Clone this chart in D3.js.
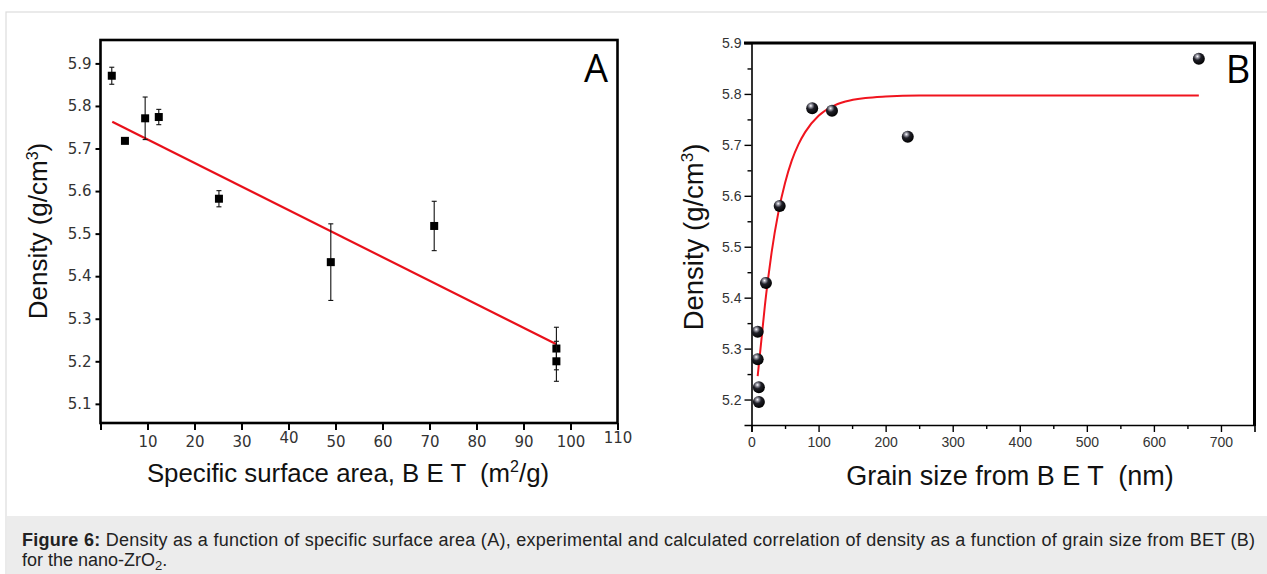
<!DOCTYPE html>
<html>
<head>
<meta charset="utf-8">
<script src="https://d3js.org/d3.v7.min.js"></script>
<style>
  body { margin: 0; background: #fff; }
  svg { display: block; }
</style>
</head>
<body>
<svg id="fig" width="1267" height="574"></svg>
<script>
// panel A: density vs specific surface area (with error bars)
var areaA   = [2.4, 5.2, 9.5, 12.4, 25.2, 49, 71, 97, 97];
var densA   = [5.871, 5.718, 5.771, 5.774, 5.582, 5.433, 5.518, 5.230, 5.200];
var errA    = [0.020, 0.004, 0.050, 0.018, 0.019, 0.090, 0.058, 0.050, 0.047];
var fitAx   = [2.5, 97];
var fitAy   = [5.763, 5.240];
var ticksAx = [0, 10, 20, 30, 40, 50, 60, 70, 80, 90, 100, 110];
var ticksAy = [5.1, 5.2, 5.3, 5.4, 5.5, 5.6, 5.7, 5.8, 5.9];

// panel B: density vs grain size (experimental + calculated)
var grainB  = [667, 90.5, 120, 233, 42, 21.5, 9.2, 9.2, 11, 11];
var densB   = [5.869, 5.772, 5.767, 5.716, 5.580, 5.429, 5.333, 5.279, 5.224, 5.195];
var fitBx   = [9.2, 15, 20, 25, 30, 40, 50, 60, 70, 80, 100, 120, 140, 170, 200, 250, 667];
var fitBy   = [5.246, 5.320, 5.385, 5.440, 5.489, 5.567, 5.625, 5.669, 5.701, 5.725, 5.757, 5.775, 5.785, 5.792, 5.795, 5.797, 5.797];
var ticksBx = [0, 100, 200, 300, 400, 500, 600, 700];
var ticksBy = [5.2, 5.3, 5.4, 5.5, 5.6, 5.7, 5.8, 5.9];

var svg = d3.select("#fig");

// card + caption background
svg.append("rect").attr("x", 6).attr("y", 12).attr("width", 1270).attr("height", 570)
    .attr("fill", "#fff").attr("stroke", "#dcdcdc").attr("stroke-width", 1.2);
svg.append("rect").attr("x", 6.6).attr("y", 516).attr("width", 1262).attr("height", 60)
    .attr("fill", "#ececec");

var defs = svg.append("defs");
var grad = defs.append("radialGradient").attr("id", "ball")
    .attr("cx", "38%").attr("cy", "30%").attr("r", "70%");
grad.append("stop").attr("offset", "0%").attr("stop-color", "#ffffff");
grad.append("stop").attr("offset", "18%").attr("stop-color", "#9a9aa6");
grad.append("stop").attr("offset", "45%").attr("stop-color", "#202028");
grad.append("stop").attr("offset", "100%").attr("stop-color", "#000");

// ---------- Panel A ----------
var xA = d3.scaleLinear().domain([0, 110]).range([100.5, 617.5]);
var yA = d3.scaleLinear().domain([5.055, 5.955]).range([423, 40]);
var gA = svg.append("g");

gA.append("rect").attr("x", 100.5).attr("y", 40).attr("width", 517).attr("height", 383)
    .attr("fill", "none").attr("stroke", "#000").attr("stroke-width", 2.6);

var axA = gA.append("g").attr("transform", "translate(0,423)")
    .call(d3.axisBottom(xA).tickValues(ticksAx).tickSize(7).tickPadding(6)
        .tickFormat(function(d) { return d === 0 ? "" : d; }));
axA.select(".domain").remove();
axA.selectAll("line").attr("stroke-width", 2);
axA.selectAll("text")
    .attr("font-family", "DejaVu Sans").attr("font-size", 15).attr("fill", "#333")
    .attr("dy", function(d) { return (d === 40 || d === 110) ? "0.45em" : "0.71em"; });

var ayA = gA.append("g").attr("transform", "translate(100.5,0)")
    .call(d3.axisLeft(yA).tickValues(ticksAy).tickSize(5).tickPadding(4).tickFormat(d3.format(".1f")));
ayA.select(".domain").remove();
ayA.selectAll("line").attr("stroke-width", 2);
ayA.selectAll("text").attr("font-family", "DejaVu Sans").attr("font-size", 15).attr("fill", "#333");

// fit line
gA.append("path")
    .datum(fitAx.map(function(x, i) { return [x, fitAy[i]]; }))
    .attr("fill", "none").attr("stroke", "#e8101a").attr("stroke-width", 2.2)
    .attr("d", d3.line().x(function(d) { return xA(d[0]); }).y(function(d) { return yA(d[1]); }));

// error bars + squares
var ptsA = areaA.map(function(x, i) { return { x: x, y: densA[i], e: errA[i] }; });
var eb = gA.selectAll(".eb").data(ptsA).enter().append("g").attr("class", "eb");
eb.append("line")
    .attr("x1", function(d) { return xA(d.x); }).attr("x2", function(d) { return xA(d.x); })
    .attr("y1", function(d) { return yA(d.y + d.e); }).attr("y2", function(d) { return yA(d.y - d.e); })
    .attr("stroke", "#111").attr("stroke-width", 1.1);
eb.append("line")
    .attr("x1", function(d) { return xA(d.x) - 2.5; }).attr("x2", function(d) { return xA(d.x) + 2.5; })
    .attr("y1", function(d) { return yA(d.y + d.e); }).attr("y2", function(d) { return yA(d.y + d.e); })
    .attr("stroke", "#111").attr("stroke-width", 1.1);
eb.append("line")
    .attr("x1", function(d) { return xA(d.x) - 2.5; }).attr("x2", function(d) { return xA(d.x) + 2.5; })
    .attr("y1", function(d) { return yA(d.y - d.e); }).attr("y2", function(d) { return yA(d.y - d.e); })
    .attr("stroke", "#111").attr("stroke-width", 1.1);
eb.append("rect")
    .attr("x", function(d) { return xA(d.x) - 4; }).attr("y", function(d) { return yA(d.y) - 4; })
    .attr("width", 8).attr("height", 8).attr("fill", "#000");

gA.append("text").attr("x", 596).attr("y", 82).attr("text-anchor", "middle")
    .attr("font-family", "Open Sans").attr("font-weight", 400).attr("font-size", 38).text("A");

gA.append("text").attr("transform", "translate(47,231) rotate(-90)").attr("text-anchor", "middle")
    .attr("font-family", "Liberation Sans").attr("font-size", 26).attr("fill", "#111")
    .html("Density (g/cm<tspan dy='-9' font-size='16'>3</tspan><tspan dy='9'>)</tspan>");
gA.append("text").attr("x", 348).attr("y", 482).attr("text-anchor", "middle")
    .attr("font-family", "Liberation Sans").attr("font-size", 25.8).attr("fill", "#111")
    .html("Specific surface area, B E T &#160;(m<tspan dy='-10' font-size='16'>2</tspan><tspan dy='10'>/g)</tspan>");

// ---------- Panel B ----------
var xB = d3.scaleLinear().domain([0, 750]).range([751.5, 1254.5]);
var yB = d3.scaleLinear().domain([5.15, 5.9]).range([425, 43]);
var gB = svg.append("g");

var axB = gB.append("g").attr("transform", "translate(0,425)")
    .call(d3.axisBottom(xB).tickValues(ticksBx).tickSize(7).tickPadding(5));
axB.select(".domain").attr("stroke-width", 1.6);
axB.selectAll("line").attr("stroke-width", 1.4);
axB.selectAll("text").attr("font-family", "Liberation Sans").attr("font-size", 14).attr("fill", "#333");
gB.append("g").attr("transform", "translate(0,425)")
    .call(d3.axisBottom(xB).tickValues(d3.range(50, 750, 100)).tickSize(4).tickFormat(""))
    .call(function(g) { g.select(".domain").remove(); g.selectAll("line").attr("stroke-width", 1.4); });

var ayB = gB.append("g").attr("transform", "translate(751.5,0)")
    .call(d3.axisLeft(yB).tickValues(ticksBy).tickSize(7).tickPadding(3).tickFormat(d3.format(".1f")));
ayB.select(".domain").attr("stroke-width", 1.6);
ayB.selectAll("line").attr("stroke-width", 1.4);
ayB.selectAll("text").attr("font-family", "Liberation Sans").attr("font-size", 14).attr("fill", "#333");
gB.append("g").attr("transform", "translate(751.5,0)")
    .call(d3.axisLeft(yB).tickValues([5.25, 5.35, 5.45, 5.55, 5.65, 5.75, 5.85]).tickSize(4).tickFormat(""))
    .call(function(g) { g.select(".domain").remove(); g.selectAll("line").attr("stroke-width", 1.4); });

// thick top and right border
gB.append("path").attr("d", "M744,43 H1254.5 V426")
    .attr("fill", "none").attr("stroke", "#000").attr("stroke-width", 3);

// calculated curve
gB.append("path")
    .datum(fitBx.map(function(x, i) { return [x, fitBy[i]]; }))
    .attr("fill", "none").attr("stroke", "#f0141e").attr("stroke-width", 2)
    .attr("d", d3.line().curve(d3.curveMonotoneX)
        .x(function(d) { return xB(d[0]); }).y(function(d) { return yB(d[1]); }));

gB.selectAll(".ball").data(grainB.map(function(x, i) { return [x, densB[i]]; }))
    .enter().append("circle").attr("class", "ball")
    .attr("cx", function(d) { return xB(d[0]); }).attr("cy", function(d) { return yB(d[1]); })
    .attr("r", 6).attr("fill", "url(#ball)");

gB.append("text").attr("x", 1238).attr("y", 83).attr("text-anchor", "middle")
    .attr("font-family", "Open Sans").attr("font-weight", 400).attr("font-size", 38).text("B");

gB.append("text").attr("transform", "translate(703,237) rotate(-90)").attr("text-anchor", "middle")
    .attr("font-family", "Liberation Sans").attr("font-size", 27.5).attr("fill", "#111")
    .html("Density (g/cm<tspan dy='-10' font-size='17'>3</tspan><tspan dy='10'>)</tspan>");
gB.append("text").attr("x", 1010).attr("y", 485).attr("text-anchor", "middle")
    .attr("font-family", "Liberation Sans").attr("font-size", 27).attr("fill", "#111")
    .html("Grain size from B E T &#160;(nm)");

// ---------- caption ----------
var cap = svg.append("text").attr("x", 22).attr("y", 546)
    .attr("font-family", "Liberation Sans").attr("font-size", 18).attr("fill", "#222")
    .attr("textLength", 1233).attr("lengthAdjust", "spacing");
cap.append("tspan").attr("font-weight", "bold").text("Figure 6:");
cap.append("tspan").text(" Density as a function of specific surface area (A), experimental and calculated correlation of density as a function of grain size from BET (B)");
var cap2 = svg.append("text").attr("x", 22).attr("y", 566)
    .attr("font-family", "Liberation Sans").attr("font-size", 18).attr("fill", "#222");
cap2.append("tspan").text("for the nano-ZrO");
cap2.append("tspan").attr("dy", 4).attr("font-size", 13).text("2");
cap2.append("tspan").attr("dy", -4).text(".");
</script>
</body>
</html>
